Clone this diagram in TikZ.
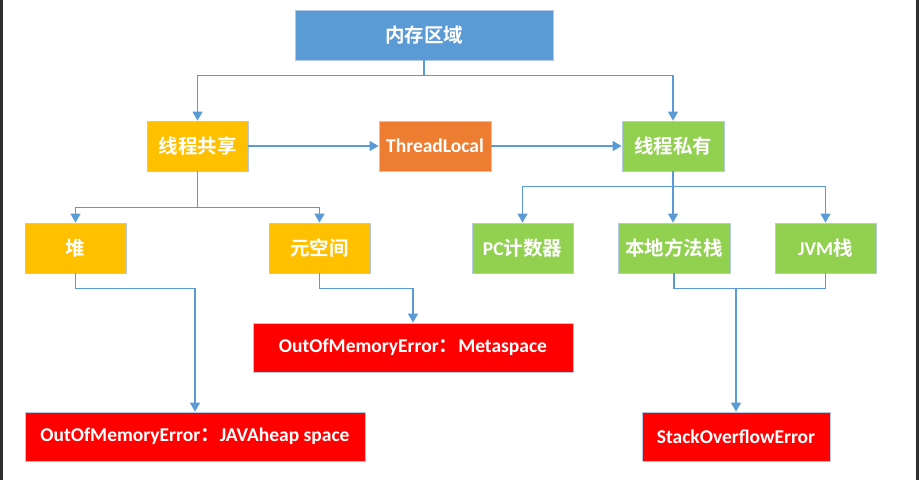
\documentclass[tikz,border=0pt]{standalone}
\usepackage{fontspec}
\setmainfont{Carlito}[BoldFont={Carlito Bold}]
\newfontfamily\cjk{Noto Sans CJK SC}[BoldFont={Noto Sans CJK SC Bold}]
\usetikzlibrary{arrows.meta}
\definecolor{memblue}{HTML}{5B9BD5}
\definecolor{shareyellow}{HTML}{FFC000}
\definecolor{tlorange}{HTML}{ED7D31}
\definecolor{privgreen}{HTML}{92D050}
\definecolor{errred}{HTML}{FF0000}
\definecolor{boxedge}{HTML}{B4C9E6}
\tikzset{box/.style={draw=boxedge, line width=0.8pt, text=white, font=\fontsize{19.5}{22}\selectfont\bfseries,
                     minimum height=50, inner sep=0pt, anchor=center},
         link/.style={draw=memblue, line width=1.5pt},
         arr/.style={link, -{Triangle[width=10pt,length=9pt]}}}
\begin{document}
\begin{tikzpicture}[x=1pt,y=-1pt]
\useasboundingbox (0,0) rectangle (919,480);
\fill[white] (0,0) rectangle (919,480);
\fill[black!82] (0,0) rectangle (2.5,480);
\fill[black!82] (916,0) rectangle (919,480);
\node[box, fill=memblue, minimum width=258] (mem) at (424,35) {\cjk\bfseries 内存区域};
\node[box, fill=shareyellow, minimum width=101] (share) at (197.5,146) {\cjk\bfseries 线程共享};
\node[box, fill=tlorange, minimum width=112] (tl) at (435,146) {ThreadLocal};
\node[box, fill=privgreen, minimum width=102] (priv) at (673,146) {\cjk\bfseries 线程私有};
\node[box, fill=shareyellow, minimum width=101] (heap) at (75.5,248) {\cjk\bfseries 堆};
\node[box, fill=shareyellow, minimum width=101] (meta) at (319.5,248) {\cjk\bfseries 元空间};
\node[box, fill=privgreen, minimum width=101] (pc) at (522.5,248) {PC{\cjk\bfseries 计数器}};
\node[box, fill=privgreen, minimum width=112] (native) at (674,248) {\cjk\bfseries 本地方法栈};
\node[box, fill=privgreen, minimum width=101] (jvm) at (825.5,248) {JVM{\cjk\bfseries 栈}};
\node[box, fill=errred, minimum width=320, minimum height=49] (errmeta) at (413,347.5) {OutOfMemoryError{\cjk\bfseries ：}Metaspace};
\node[box, fill=errred, minimum width=340, minimum height=49] (errheap) at (195,436.5) {OutOfMemoryError{\cjk\bfseries ：}JAVAheap space};
\node[box, fill=errred, minimum width=188, minimum height=49] (errso) at (736,436.5) {StackOverflowError};
% top level
\draw[arr] (mem.south) -- ++(0,15) -| (share.north);
\draw[arr] (mem.south) -- ++(0,15) -| (priv.north);
\draw[arr] (share.east) -- (tl.west);
\draw[arr] (tl.east) -- (priv.west);
% second level
\draw[arr] (share.south) -- ++(0,36) -| (heap.north);
\draw[arr] (share.south) -- ++(0,36) -| (meta.north);
\draw[arr] (priv.south) -- ++(0,15) -| (pc.north);
\draw[arr] (priv.south) -- ++(0,15) -| (jvm.north);
\draw[arr] (priv.south) -- (priv.south |- native.north);
% errors
\draw[arr] (heap.south) -- ++(0,15) -| (errheap.north);
\draw[arr] (meta.south) -- ++(0,15) -| (errmeta.north);
\path (native.south) ++(0,15) coordinate (stk);
\draw[link] (native.south) -- (stk) -| (jvm.south);
\draw[arr] (stk -| errso.north) -- (errso.north);
\end{tikzpicture}
\end{document}
